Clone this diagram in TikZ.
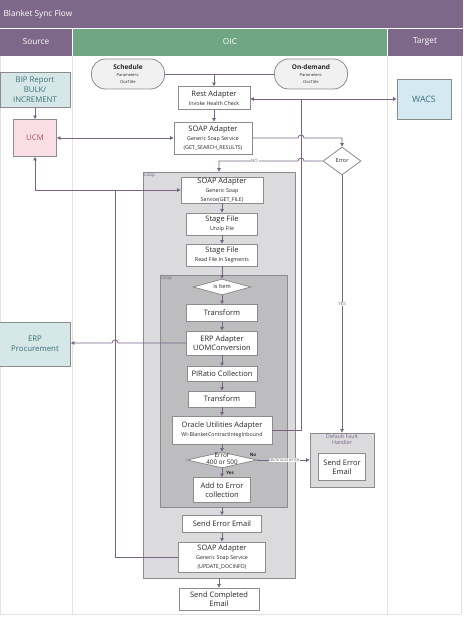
\documentclass[tikz,border=0pt]{standalone}
\usepackage{fontspec}
\setmainfont{Open Sans}
\usetikzlibrary{arrows.meta,shapes.geometric}

\definecolor{hdrpurple}{RGB}{126,104,137}
\definecolor{hdrgreen}{RGB}{112,166,131}
\definecolor{flowcol}{RGB}{122,100,132}
\definecolor{boxborder}{RGB}{140,140,140}
\definecolor{outerfill}{RGB}{219,218,221}
\definecolor{innerfill}{RGB}{189,188,191}
\definecolor{tealfill}{RGB}{213,231,231}
\definecolor{tealtext}{RGB}{62,112,122}
\definecolor{pinkfill}{RGB}{250,222,229}
\definecolor{pinktext}{RGB}{168,82,112}
\definecolor{bluefill}{RGB}{213,233,242}
\definecolor{termfill}{RGB}{241,241,241}
\definecolor{lanecol}{RGB}{226,226,226}

\newcommand\subtxt[1]{{\fontsize{5.3}{6}\selectfont #1}}

\tikzset{
  >={Triangle[length=3.5pt,width=3.5pt]},
  box/.style={draw=boxborder, line width=0.8pt, fill=white, align=center, inner sep=1pt,
    text=black!85, font=\fontsize{7.5}{8.7}\selectfont},
  sysbox/.style={box, fill=tealfill, text=tealtext, font=\fontsize{7.8}{10}\selectfont},
  term/.style={box, fill=termfill, rounded corners=14pt, minimum width=73, minimum height=30,
    font=\fontsize{4}{7}\selectfont},
  decide/.style={diamond, draw=boxborder, line width=0.8pt, fill=white, inner sep=0pt},
  decidetxt/.style={align=center, inner sep=0pt, text=black!85, font=\fontsize{5.5}{6.5}\selectfont},
  plain/.style={draw=flowcol, line width=0.8pt},
  flow/.style={plain, ->},
  twoway/.style={plain, <->},
  looparea/.style={draw=boxborder, line width=0.8pt, inner sep=0pt},
  looptag/.style={anchor=north west, text=flowcol, font=\fontsize{4.5}{5}\selectfont, inner sep=1.5pt},
  tag/.style={fill=white, text=black!60, inner sep=0.5pt, font=\fontsize{4.5}{5}\selectfont},
  lane/.style={text=white, font=\fontsize{8.3}{9}\selectfont},
}

\begin{document}
\begin{tikzpicture}[x=1pt, y=-1pt]
  \useasboundingbox (0,0) rectangle (463,620);
  \fill[white] (0,0) rectangle (463,620);
  \fill[hdrpurple] (0,0) rectangle (463,28);
  \fill[hdrpurple] (0,29) rectangle (72,56);
  \fill[hdrgreen] (73,29) rectangle (387,56);
  \fill[hdrpurple] (388,29) rectangle (463,56);
  \node[lane, anchor=west] (title) at (0,14) {Blanket Sync Flow};
  \node[lane] (srchdr) at (36,42) {Source};
  \node[lane] (oichdr) at (230,42) {OIC};
  \node[lane] (tgthdr) at (425,42) {Target};
  \foreach \x in {0.5, 72.5, 387.5, 461} {
      \draw[lanecol, line width=0.8pt] (\x,56) -- (\x,614);
  }
  \draw[lanecol, line width=0.8pt] (0,614) -- (461,614);

  \node[looparea, fill=outerfill, minimum width=152, minimum height=406] (loop1) at (219,375) {};
  \node[looptag] (loop1tag) at (loop1.north west) {Loop};
  \node[looparea, fill=innerfill, minimum width=127, minimum height=232] (loop2) at (223.5,391) {};
  \node[looptag] (loop2tag) at (loop2.north west) {Loop};
  \node[looparea, fill=outerfill, minimum width=64, minimum height=54] (fault) at (342,460) {};
  \node[anchor=north, align=center, inner sep=1.5pt, text=flowcol, font=\fontsize{5.3}{5.8}\selectfont]
    (faulttag) at (fault.north) {Default Fault\\Handler};
  \node[box, minimum width=47, minimum height=27] (faultmail) at (342,467) {Send Error\\Email};

  \node[sysbox, minimum width=70, minimum height=35] (bip) at (35,90) {BIP Report\\BULK/\\INCREMENT};
  \node[sysbox, fill=pinkfill, text=pinktext, minimum width=43, minimum height=37] (ucm) at (35,138) {UCM};
  \node[sysbox, minimum width=71, minimum height=44] (erp) at (35,344) {ERP\\Procurement};
  \node[sysbox, fill=bluefill, font=\fontsize{8.8}{10}\selectfont, minimum width=54, minimum height=40]
    (wacs) at (424,99) {WACS};

  \node[term] (sched) at (128,74) {{\fontsize{6.5}{7}\selectfont\bfseries Schedule}\\Parameters:\\DocTitle};
  \node[term] (ondemand) at (311,74) {{\fontsize{6.5}{7}\selectfont\bfseries On-demand}\\Parameters:\\DocTitle};
  \node[box, minimum width=72, minimum height=23] (rest) at (214,98) {Rest Adapter\\\subtxt{Invoke Health Check}};
  \node[box, minimum width=78, minimum height=32] (soap1) at (213,138)
    {SOAP Adapter\\\subtxt{Generic Soap Service}\\\subtxt{(GET\_SEARCH\_RESULTS)}};
  \node[decide, minimum width=38, minimum height=28] (err1) at (342,161) {};
  \node[decidetxt] (err1txt) at (err1) {Error};

  \node[box, minimum width=82, minimum height=26] (soap2) at (222,190)
    {SOAP Adapter\\\subtxt{Generic Soap}\\\subtxt{Service(GET\_FILE)}};
  \node[box, minimum width=71, minimum height=22] (stage1) at (222,224) {Stage File\\\subtxt{Unzip File}};
  \node[box, minimum width=71, minimum height=22] (stage2) at (222,255) {Stage File\\\subtxt{Read File In Segments}};
  \node[decide, minimum width=58, minimum height=16] (isitem) at (222,287) {};
  \node[decidetxt] (isitemtxt) at (isitem) {Is Item};
  \node[box, minimum width=71, minimum height=17] (trans1) at (222,313) {Transform};
  \node[box, minimum width=71, minimum height=24] (erpad) at (222,343) {ERP Adapter\\UOMConversion};
  \node[box, minimum width=70, minimum height=15] (piratio) at (222,374) {PIRatio Collection};
  \node[box, minimum width=67, minimum height=16] (trans2) at (222,399) {Transform};
  \node[box, minimum width=100, minimum height=28] (oracle) at (222,430)
    {Oracle Utilities Adapter\\\subtxt{WI-BlanketContractIntegInbound}};
  \node[decide, minimum width=70, minimum height=16] (err2) at (222,460) {};
  \node[decidetxt, font=\fontsize{6.3}{6.5}\selectfont] (err2txt) at (222,459) {Error\\400 or 500};
  \node[box, minimum width=57, minimum height=25] (adderr) at (222,490) {Add to Error\\collection};
  \node[box, minimum width=79, minimum height=17] (senderr) at (222,524) {Send Error Email};
  \node[box, minimum width=87, minimum height=30] (soap3) at (222,557)
    {SOAP Adapter\\\subtxt{Generic Soap Service}\\\subtxt{(UPDATE\_DOCINFO)}};
  \node[box, minimum width=80, minimum height=22] (sendcomp) at (219,599) {Send Completed\\Email};

  \coordinate (wacsjoin) at (301,99);
  \coordinate (ucmtap) at (115,190);

  \draw[plain] (sched.east) -- (ondemand.west);
  \draw[flow] (rest.north |- sched.east) -- (rest.north);
  \draw[flow] (bip.south) -- (ucm.north);
  \draw[flow] (rest.south) -- (rest.south |- soap1.north);
  \draw[twoway] (ucm.east) -- (ucm.east -| soap1.west);
  \draw[plain] (oracle.east) -| (wacsjoin);
  \draw[flow] (wacsjoin) -- (wacsjoin -| rest.east);
  \draw[flow] (wacsjoin) -- (wacsjoin -| wacs.west);
  \draw[flow] (soap1.east) -- (298,138) arc[start angle=180, end angle=360, radius=3]
    -- (err1.north |- soap1.east) -- (err1.north);
  \draw[flow] (err1.west) -- (304,161) arc[start angle=360, end angle=180, radius=3]
    -- (loop1.north |- err1.west) node[tag, pos=0.55] (notag) {NO} -- (loop1.north);
  \draw[flow] (err1.south) -- (fault.north) node[tag, pos=0.5] (yestag) {YES};

  \foreach \a/\b in {soap2/stage1, stage1/stage2, stage2/isitem, isitem/trans1, trans1/erpad,
      erpad/piratio, piratio/trans2, trans2/oracle, oracle/err2, err2/adderr, senderr/soap3} {
      \draw[flow] (\a.south) -- (\b.north);
  }
  \draw[flow] (loop2.south -| senderr) -- (senderr.north);
  \draw[flow] (loop1.south) -- (sendcomp.north);

  \draw[flow] (err2.east) -- (err2.east -| fault.west) node[tag, pos=0.52] (techtag) {technical error};
  \node[inner sep=0pt, font=\fontsize{4.5}{5}\selectfont\bfseries, text=black!85] (err2no) at (253,455) {No};
  \node[inner sep=0pt, font=\fontsize{4.5}{5}\selectfont\bfseries, text=black!85] (err2yes) at (230,473) {Yes};

  \draw[twoway] (ucm.south) |- (soap2.west);
  \draw[plain] (soap3.west) -| (ucmtap);
  \draw[flow] (erpad.west) -- (118,343) arc[start angle=360, end angle=180, radius=3] -- (erpad.west -| erp.east);
\end{tikzpicture}
\end{document}
